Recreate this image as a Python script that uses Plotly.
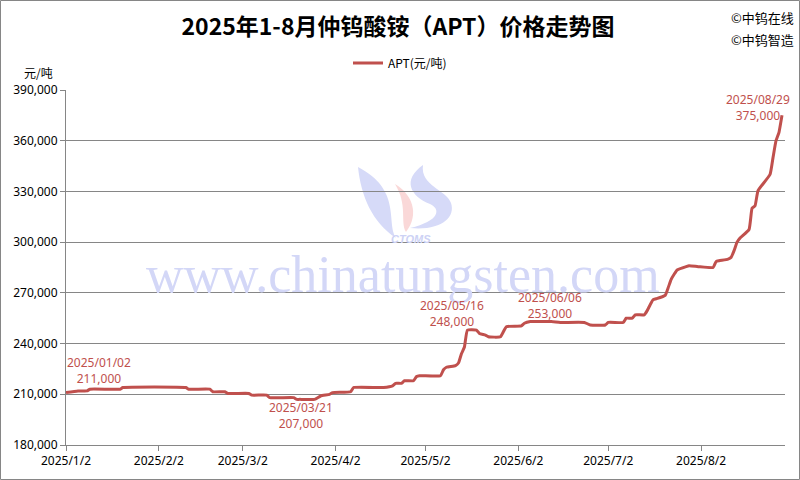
import plotly.graph_objects as go

# ---------------- data ----------------
dates = [
    "2025-01-02", "2025-01-06", "2025-01-09", "2025-01-10", "2025-01-20", "2025-01-21",
    "2025-02-11", "2025-02-12", "2025-02-19", "2025-02-20", "2025-02-24", "2025-02-25",
    "2025-03-04", "2025-03-05", "2025-03-10", "2025-03-11", "2025-03-19", "2025-03-20",
    "2025-03-21", "2025-03-26", "2025-03-28", "2025-03-31", "2025-04-01", "2025-04-07",
    "2025-04-08", "2025-04-18", "2025-04-21", "2025-04-22", "2025-04-24", "2025-04-25",
    "2025-04-28", "2025-04-29", "2025-04-30", "2025-05-07", "2025-05-08", "2025-05-09",
    "2025-05-12", "2025-05-13", "2025-05-14", "2025-05-15", "2025-05-16", "2025-05-19",
    "2025-05-20", "2025-05-22", "2025-05-23", "2025-05-27", "2025-05-28", "2025-05-29",
    "2025-06-03", "2025-06-04", "2025-06-06", "2025-06-13", "2025-06-16", "2025-06-24",
    "2025-06-26", "2025-07-01", "2025-07-02", "2025-07-07", "2025-07-08", "2025-07-10",
    "2025-07-11", "2025-07-14", "2025-07-15", "2025-07-16", "2025-07-17", "2025-07-18",
    "2025-07-21", "2025-07-22", "2025-07-23", "2025-07-24", "2025-07-25", "2025-07-28",
    "2025-07-29", "2025-08-01", "2025-08-06", "2025-08-07", "2025-08-08", "2025-08-11",
    "2025-08-12", "2025-08-13", "2025-08-14", "2025-08-15", "2025-08-18", "2025-08-19",
    "2025-08-20", "2025-08-21", "2025-08-25", "2025-08-26", "2025-08-27", "2025-08-28",
    "2025-08-29",
]
prices = [
    211000, 212000, 212000, 213000, 213000, 214000,
    214000, 213000, 213000, 211500, 211500, 210500,
    210500, 209500, 209500, 208000, 208000, 207000,
    207000, 207000, 209000, 210000, 211000, 211500,
    214000, 214000, 215000, 216500, 216500, 218000,
    218000, 220500, 221000, 221000, 224500, 226000,
    227000, 228500, 234000, 238000, 248000, 248000,
    246000, 245000, 244000, 244000, 247000, 250000,
    250500, 252000, 253000, 253000, 252500, 252500,
    251000, 251000, 252500, 252500, 255000, 255000,
    257000, 257000, 259500, 263000, 266000, 266500,
    268500, 273000, 278000, 281000, 283500, 285500,
    286000, 285500, 285000, 288500, 289000, 290000,
    291000, 295000, 300000, 302500, 307500, 320000,
    321500, 330500, 340000, 350000, 360000, 365000,
    375000,
]
label_dates = ["2025-01-02", "2025-03-21", "2025-05-16", "2025-06-06", "2025-08-29"]
x_tick_vals = ["2025-01-02", "2025-02-02", "2025-03-02", "2025-04-02",
               "2025-05-02", "2025-06-02", "2025-07-02", "2025-08-02"]
x_tick_text = ["2025/1/2", "2025/2/2", "2025/3/2", "2025/4/2",
               "2025/5/2", "2025/6/2", "2025/7/2", "2025/8/2"]
y_tick_vals = [180000, 210000, 240000, 270000, 300000, 330000, 360000, 390000]

series_name = "APT(元/吨)"
title_text = "2025年1-8月仲钨酸铵（APT）价格走势图"

# ---------------- style ----------------
RED = "#C0504D"
GRID = "#868686"
LAT = "Noto Sans, Noto Sans CJK SC, sans-serif"
CJK = "Noto Sans CJK SC, Noto Sans, sans-serif"

W, H = 800, 480
ML, MR, MT, MB = 66, 15, 90, 35
PW, PH = W - ML - MR, H - MT - MB


def px(x):
    return (x - ML) / PW


def py(y):
    return (H - MB - y) / PH


fig = go.Figure()
fig.add_trace(go.Scatter(
    x=dates, y=prices, mode="lines", name=series_name,
    line=dict(color=RED, width=3, shape="spline", smoothing=0.4),
    showlegend=True, hoverinfo="skip",
))

# label offsets (pixels) for the highlighted points
label_offsets = {
    "2025-01-02": (33, 22),
    "2025-03-21": (1, -16),
    "2025-05-16": (-15, 17),
    "2025-06-06": (20, 16),
    "2025-08-29": (-24, 8),
}
annotations = []
# watermark text
annotations.append(dict(
    x=px(403), y=py(274), xref="paper", yref="paper", showarrow=False,
    text="www.chinatungsten.com",
    font=dict(family="Liberation Serif, DejaVu Serif, serif", size=52, color="#D3D7F7"),
    xanchor="center", yanchor="middle",
))
annotations.append(dict(
    x=px(411), y=py(239), xref="paper", yref="paper", showarrow=False,
    text="<b><i>CTOMS</i></b>",
    font=dict(family="Liberation Sans, sans-serif", size=11, color="#CDD2F5"),
    xanchor="center", yanchor="middle",
))
for d in label_dates:
    v = prices[dates.index(d)]
    dx, dy = label_offsets[d]
    annotations.append(dict(
        x=d, y=v, xref="x", yref="y", showarrow=False,
        text=d.replace("-", "/") + "<br>" + f"{v:,}",
        font=dict(family=LAT, size=12, color=RED),
        xshift=dx, yshift=dy, align="center",
    ))
# y-axis unit
annotations.append(dict(
    x=px(38), y=py(72), xref="paper", yref="paper", showarrow=False,
    text="元/吨", font=dict(family=CJK, size=12, color="#000000"),
    xanchor="center", yanchor="middle",
))
# top-right notes
for txt, yy in [("©中钨在线", 17), ("©中钨智造", 40)]:
    annotations.append(dict(
        x=px(796), y=py(yy), xref="paper", yref="paper", showarrow=False,
        text=txt, font=dict(family=CJK, size=13, color="#000000"),
        xanchor="right", yanchor="middle",
    ))


def path_px(cmds):
    out = []
    for c in cmds:
        if isinstance(c, str):
            out.append(c)
        else:
            out.append(f"{px(c[0]):.5f},{py(c[1]):.5f}")
    return " ".join(out)


logo_left = path_px(["M", (358, 167), "C", (361, 196), (372, 222), (396, 238),
                     "C", (386, 222), (402, 190), (358, 167), "Z"])
logo_pink = path_px(["M", (395, 184), "C", (412, 194), (420, 214), (406, 232),
                     "C", (400, 222), (408, 205), (395, 184), "Z"])
logo_right = path_px(["M", (423, 165), "C", (402, 180), (410, 196), (430, 204),
                      "C", (441, 209), (440, 221), (410, 228),
                      "C", (440, 231), (456, 218), (451, 203),
                      "C", (447, 190), (420, 186), (423, 165), "Z"])

shapes = [
    dict(type="path", xref="paper", yref="paper", path=logo_left,
         fillcolor="#D6DAF8", line=dict(width=0), layer="below"),
    dict(type="path", xref="paper", yref="paper", path=logo_pink,
         fillcolor="#FAD8D8", line=dict(width=0), layer="below"),
    dict(type="path", xref="paper", yref="paper", path=logo_right,
         fillcolor="#D6DAF8", line=dict(width=0), layer="below"),
    # outer chart frame
    dict(type="rect", xref="paper", yref="paper",
         x0=px(0.5), x1=px(799.5), y0=py(479.5), y1=py(0.5),
         line=dict(color=GRID, width=1), fillcolor="rgba(0,0,0,0)", layer="above"),
]

fig.update_layout(
    width=W, height=H,
    margin=dict(l=ML, r=MR, t=MT, b=MB, pad=0, autoexpand=False),
    paper_bgcolor="white", plot_bgcolor="white",
    hovermode=False,
    title=dict(text=title_text, x=0.4975, xref="container", xanchor="center",
               y=1 - 27 / H, yref="container", yanchor="middle",
               font=dict(family=CJK, size=23, color="#000000", weight="bold")),
    legend=dict(orientation="h", x=px(400), y=py(63), xanchor="center", yanchor="middle",
                font=dict(family=CJK, size=12, color="#000000"), itemwidth=30,
                bgcolor="rgba(0,0,0,0)"),
    xaxis=dict(type="date", range=["2025-01-02", "2025-08-30"], automargin=False,
               tickmode="array", tickvals=x_tick_vals, ticktext=x_tick_text,
               ticks="outside", ticklen=5, tickcolor=GRID, showline=True, linecolor=GRID,
               linewidth=1, showgrid=False, zeroline=False,
               tickfont=dict(family=LAT, size=12, color="#000000")),
    yaxis=dict(range=[180000, 390000], tickmode="array", tickvals=y_tick_vals,
               automargin=False,
               tickformat=",", ticks="outside", ticklen=5, tickcolor=GRID,
               showline=True, linecolor=GRID, linewidth=1,
               showgrid=True, gridcolor=GRID, gridwidth=1, zeroline=False,
               tickfont=dict(family=LAT, size=12, color="#000000")),
    annotations=annotations,
    shapes=shapes,
)

fig.write_html("out.html",
               config={"displayModeBar": False, "staticPlot": True},
               post_script="document.body.style.margin='0';document.body.style.padding='0';")
